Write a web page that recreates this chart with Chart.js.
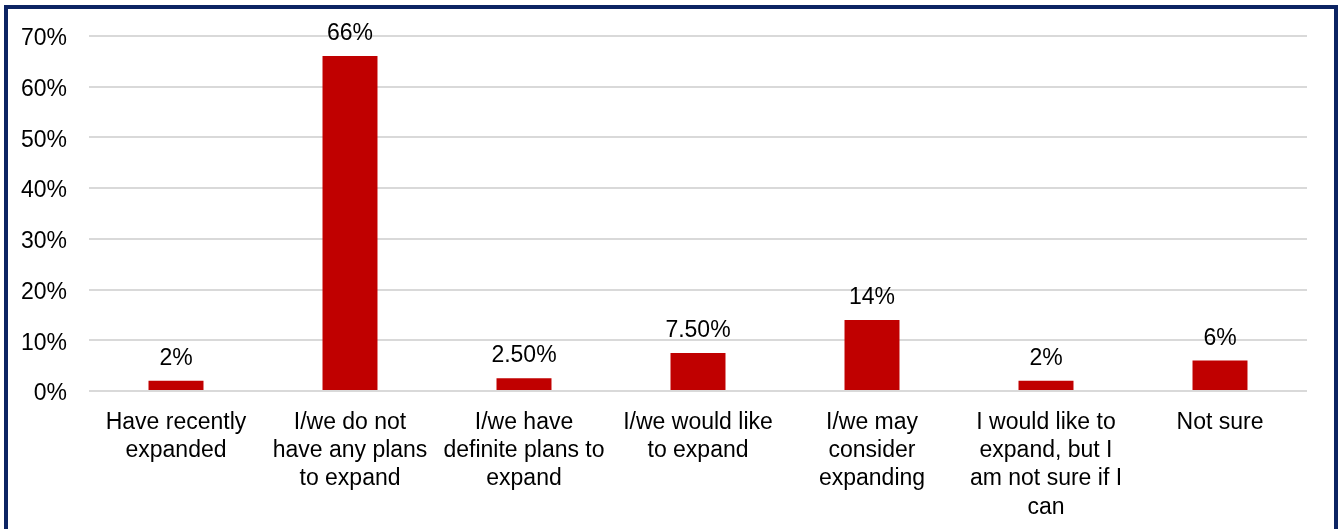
<!DOCTYPE html>
<html>
<head>
<meta charset="utf-8">
<script src="https://cdn.jsdelivr.net/npm/chart.js@4/dist/chart.umd.min.js"></script>
<style>
  html, body { margin: 0; padding: 0; background: #fff; overflow: hidden; }
  #marco {
    position: absolute; left: 4px; top: 5px;
    width: 1326px; height: 600px;
    border: 4px solid #0c2463;
  }
  #lienzo { position: absolute; left: 0; top: 0; }
</style>
</head>
<body>
<div id="marco"></div>
<canvas id="lienzo" width="1338" height="529"></canvas>
<script>
// Categorías (eje X) con saltos de línea
var categorias = [
    ["Have recently", "expanded"],
    ["I/we do not", "have any plans", "to expand"],
    ["I/we have", "definite plans to", "expand"],
    ["I/we would like", "to expand"],
    ["I/we may", "consider", "expanding"],
    ["I would like to", "expand, but I", "am not sure if I", "can"],
    ["Not sure"]
];
// Porcentajes de respuesta
var valores = [2, 66, 2.5, 7.5, 14, 2, 6];
// Texto que aparece encima de cada barra
var etiquetas = ["2%", "66%", "2.50%", "7.50%", "14%", "2%", "6%"];
// Marcas del eje Y
var ticksY = [0, 10, 20, 30, 40, 50, 60, 70];

var fuente = "'Liberation Sans', Arial, sans-serif";
var tamFuente = 23;

// Plugin sencillo para pintar el valor arriba de cada barra
var etiquetasBarras = {
    id: 'etiquetasBarras',
    afterDatasetsDraw: function (chart) {
        var ctx = chart.ctx;
        var meta = chart.getDatasetMeta(0);
        ctx.save();
        ctx.font = tamFuente + 'px ' + fuente;
        ctx.fillStyle = '#000';
        ctx.textAlign = 'center';
        ctx.textBaseline = 'alphabetic';
        meta.data.forEach(function (barra, i) {
            ctx.fillText(etiquetas[i], barra.x, barra.y - 16);
        });
        ctx.restore();
    }
};

var ctx = document.getElementById('lienzo').getContext('2d');
var grafica = new Chart(ctx, {
    type: 'bar',
    data: {
        labels: categorias,
        datasets: [{
            data: valores,
            backgroundColor: '#c00000',
            borderWidth: 0,
            barPercentage: 0.316,
            categoryPercentage: 1
        }]
    },
    options: {
        responsive: false,
        animation: false,
        layout: { padding: { top: 33, right: 31, bottom: 0, left: 0 } },
        plugins: {
            legend: { display: false },
            tooltip: { enabled: false }
        },
        scales: {
            x: {
                grid: { display: false },
                border: { display: false },
                afterFit: function (scale) { scale.height = 138; },
                ticks: {
                    color: '#000',
                    autoSkip: false,
                    maxRotation: 0,
                    padding: 10,
                    font: { family: fuente, size: tamFuente, lineHeight: 1.22 }
                }
            },
            y: {
                min: 0,
                max: 70,
                afterFit: function (scale) { scale.width = 89; },
                afterBuildTicks: function (scale) {
                    scale.ticks = ticksY.map(function (v) { return { value: v }; });
                },
                grid: { color: '#d9d9d9', lineWidth: 2, drawTicks: false },
                border: { display: false },
                ticks: {
                    color: '#000',
                    padding: 22,
                    labelOffset: 3,
                    font: { family: fuente, size: tamFuente },
                    callback: function (v) { return v + '%'; }
                }
            }
        }
    },
    plugins: [etiquetasBarras]
});
</script>
</body>
</html>
